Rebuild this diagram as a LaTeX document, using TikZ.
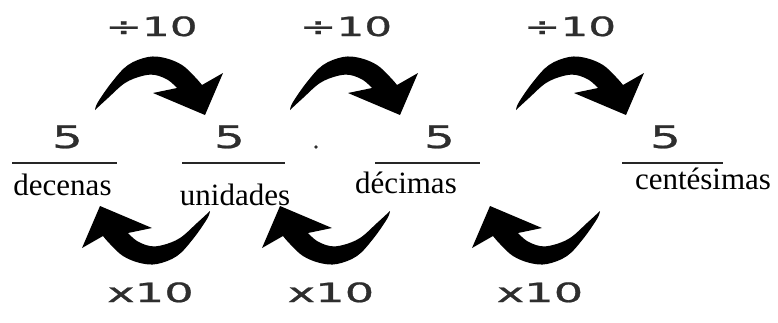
\documentclass[tikz,border=0pt]{standalone}
\usepackage{fontspec}
\setmainfont{Liberation Serif}
\newfontfamily\digfont[FakeBold=0.8]{DejaVu Sans}
\definecolor{inkgray}{HTML}{2E2E2E}
\tikzset{
  sanslab/.style={anchor=base, inner sep=0pt, text=inkgray, font=\digfont\fontsize{26.5}{30}\selectfont},
  fivelab/.style={anchor=base, inner sep=0pt, text=inkgray, font=\digfont\fontsize{31}{36}\selectfont},
  serlab/.style={anchor=base, inner sep=0pt, font=\fontsize{31}{36}\selectfont},
  fracline/.style={line width=2.5pt, draw=black!85},
  dotnode/.style={circle, fill=inkgray, inner sep=0pt, minimum size=3.6pt},
  curvedarrow/.pic={
    \fill[black] (-57.5,-50)
      -- plot[smooth,tension=0.6] coordinates {(-57.5,-50) (-54.5,-58) (-40.5,-78) (-24.5,-95) (-4.5,-103) (12.5,-102) (29.5,-95) (42.5,-83) (49.5,-75)}
      -- (70.5,-87) -- (52.5,-45) -- (0.5,-67) -- (24.5,-72)
      -- plot[smooth,tension=0.6] coordinates {(24.5,-72) (15.5,-80) (2.5,-85) (-10.5,-84) (-27.5,-77) (-44.5,-62) (-57.5,-50)}
      -- cycle;
  }
}
\begin{document}
\begin{tikzpicture}[x=1pt,y=-1pt]
\useasboundingbox (0,0) rectangle (778,322);
% top arrows
\pic at (152.5,160) {curvedarrow};
\pic at (347.5,160) {curvedarrow};
\pic at (573.5,160) {curvedarrow};
% bottom arrows
\pic[rotate=180] at (152.5,161) {curvedarrow};
\pic[rotate=180] at (332.5,161) {curvedarrow};
\pic[rotate=180] at (542.5,161) {curvedarrow};
% top labels
\node[sanslab] (d1) at (151.5,36) {\scalebox{1.65}[1]{÷10}};
\node[sanslab] (d2) at (346,36) {\scalebox{1.65}[1]{÷10}};
\node[sanslab] (d3) at (570,36) {\scalebox{1.65}[1]{÷10}};
% bottom labels
\node[sanslab] (m1) at (150.5,302) {\scalebox{1.75}[1]{x10}};
\node[sanslab] (m2) at (331,302) {\scalebox{1.75}[1]{x10}};
\node[sanslab] (m3) at (540,302) {\scalebox{1.75}[1]{x10}};
% fives
\node[fivelab] (f1) at (67.5,148) {\scalebox{1.55}[1]{5}};
\node[fivelab] (f2) at (229.5,148) {\scalebox{1.55}[1]{5}};
\node[fivelab] (f3) at (439.5,148) {\scalebox{1.55}[1]{5}};
\node[fivelab] (f4) at (665.5,148) {\scalebox{1.55}[1]{5}};
% fraction lines
\coordinate (l1a) at (12,163); \coordinate (l1b) at (117,163);
\coordinate (l2a) at (182,163); \coordinate (l2b) at (285,163);
\coordinate (l3a) at (375,163); \coordinate (l3b) at (480,163);
\coordinate (l4a) at (622,163); \coordinate (l4b) at (723,163);
\draw[fracline] (l1a) -- (l1b);
\draw[fracline] (l2a) -- (l2b);
\draw[fracline] (l3a) -- (l3b);
\draw[fracline] (l4a) -- (l4b);
% decimal point
\node[dotnode] (dp) at (316,147) {};
% place names
\node[serlab] (n1) at (62.5,195) {decenas};
\node[serlab] (n2) at (235,205) {unidades};
\node[serlab] (n3) at (406,193) {décimas};
\node[serlab] (n4) at (703,189) {centésimas};
\end{tikzpicture}
\end{document}
